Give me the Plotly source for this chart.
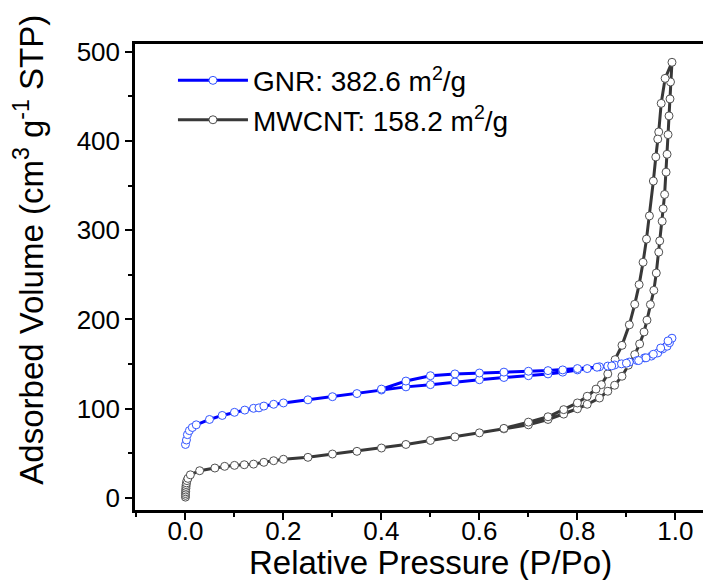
import plotly.graph_objects as go

# GNR isotherm (adsorption then desorption)
gnr_ads_x = [0.0, 0.002, 0.004, 0.008, 0.014, 0.022, 0.049, 0.075, 0.10, 0.121, 0.139, 0.15, 0.16, 0.18, 0.20,
             0.25, 0.30, 0.35, 0.40, 0.45, 0.50, 0.55, 0.60, 0.65, 0.70, 0.74, 0.77, 0.80, 0.82, 0.845, 0.862,
             0.876, 0.89, 0.906, 0.922, 0.937, 0.951, 0.964, 0.974, 0.983, 0.988, 0.993]
gnr_ads_y = [60, 65, 71, 75.5, 79, 82, 88, 92.5, 96, 98.5, 100.5, 101, 103, 105, 106.5,
             110, 113.5, 117, 121, 124.5, 127, 130, 132.5, 135, 137, 139, 141, 143.5, 145, 147, 147.8,
             149, 150.3, 152.3, 154, 157, 159, 162.5, 167, 170, 174, 179]
gnr_des_x = [0.985, 0.97, 0.955, 0.94, 0.925, 0.90, 0.87, 0.84, 0.80, 0.77, 0.74, 0.70, 0.65, 0.60, 0.55,
             0.50, 0.45, 0.40]
gnr_des_y = [176, 168, 161, 157, 154, 151, 148, 146.5, 145, 143.5, 142.7, 142, 141, 140, 139,
             137, 131, 122]

# MWCNT isotherm (adsorption then desorption)
mw_ads_x = [0.0, 0.0, 0.0, 0.0005, 0.0005, 0.001, 0.001, 0.0015, 0.002, 0.003, 0.005, 0.01, 0.029, 0.06,
            0.08, 0.10, 0.12, 0.139, 0.16, 0.18, 0.20, 0.25, 0.30, 0.35, 0.40, 0.45, 0.50, 0.55, 0.60, 0.65,
            0.70, 0.74, 0.772, 0.80, 0.82, 0.845, 0.862, 0.876, 0.891, 0.904, 0.917, 0.927, 0.936, 0.942,
            0.949, 0.956, 0.961, 0.966, 0.968, 0.973, 0.975, 0.978, 0.981, 0.983, 0.985, 0.987, 0.989,
            0.99, 0.993]
mw_ads_y = [1, 3, 5, 7, 9, 11, 13, 15, 17, 19.5, 22, 26, 30.6, 33.6,
            35.5, 36.6, 37.3, 38, 40, 41.8, 43.4, 45.6, 49.3, 52.3, 56, 60, 64.5, 68.5, 73, 77.5,
            82, 88, 94, 100, 105, 112, 119.6, 126.3, 136.4, 148.8, 160.7, 172.6, 186, 199.2,
            216.7, 232.6, 252, 275.4, 288, 310, 324, 340, 365, 385, 407, 428, 447,
            466, 488]
mw_des_x = [0.979, 0.971, 0.966, 0.964, 0.960, 0.955, 0.947, 0.941, 0.934, 0.926, 0.917, 0.906, 0.891,
            0.877, 0.862, 0.849, 0.838, 0.82, 0.80, 0.772, 0.74, 0.70, 0.65]
mw_des_y = [470, 442, 410, 402, 382, 355, 316, 290, 264, 239, 217, 194, 171,
            155, 139, 127, 122, 114, 106.5, 99, 91, 85, 78]

names = ["GNR: 382.6 m<sup>2</sup>/g", "MWCNT: 158.2 m<sup>2</sup>/g"]
x_ticks = [0.0, 0.2, 0.4, 0.6, 0.8, 1.0]
x_ticktext = ["0.0", "0.2", "0.4", "0.6", "0.8", "1.0"]
y_ticks = [0, 100, 200, 300, 400, 500]
x_title = "Relative Pressure (P/Po)"
y_title = "Adsorbed Volume (cm<sup>3</sup> g<sup>-1</sup> STP)"

FONT = "Arial, 'Liberation Sans', sans-serif"

fig = go.Figure()
fig.add_trace(go.Scatter(
    x=mw_ads_x + mw_des_x, y=mw_ads_y + mw_des_y, name=names[1], legendrank=2,
    mode="lines+markers",
    line=dict(color="#383838", width=3),
    marker=dict(symbol="circle", size=8, color="white", line=dict(color="#505050", width=1)),
))
fig.add_trace(go.Scatter(
    x=gnr_ads_x + gnr_des_x, y=gnr_ads_y + gnr_des_y, name=names[0], legendrank=1,
    mode="lines+markers",
    line=dict(color="#0000ff", width=3),
    marker=dict(symbol="circle", size=8, color="white", line=dict(color="#3355ff", width=1)),
))

fig.update_layout(
    width=711, height=580,
    margin=dict(l=127, r=0, t=36, b=78),
    paper_bgcolor="white", plot_bgcolor="white",
    font=dict(family=FONT, color="black", size=26),
    showlegend=True,
    legend=dict(x=0.065, y=0.975, xanchor="left", yanchor="top",
                bgcolor="rgba(0,0,0,0)", font=dict(size=28), itemwidth=70),
    xaxis=dict(range=[-0.103, 1.089], tickvals=x_ticks, ticktext=x_ticktext,
               showline=True, linecolor="black", linewidth=2.5, mirror=True,
               ticks="outside", ticklen=7, tickwidth=2, tickcolor="black",
               minor=dict(dtick=0.1, tick0=0, ticks="outside", ticklen=4, tickwidth=2, tickcolor="black"),
               showgrid=False, zeroline=False, automargin=False,
               ticklabelstandoff=-11,
               tickfont=dict(size=26)),
    yaxis=dict(range=[-13.4, 508.5], tickvals=y_ticks,
               showline=True, linecolor="black", linewidth=2.5, mirror=False,
               ticks="outside", ticklen=7, tickwidth=2, tickcolor="black",
               minor=dict(dtick=50, tick0=0, ticks="outside", ticklen=4, tickwidth=2, tickcolor="black"),
               showgrid=False, zeroline=False, automargin=False,
               tickfont=dict(size=26)),
    annotations=[
        dict(text=x_title, xref="x", yref="paper", x=0.5, y=-0.113, xanchor="center", yanchor="middle",
             showarrow=False, font=dict(size=33)),
        dict(text=y_title, xref="paper", yref="paper", x=-0.182, y=0.558, xanchor="center", yanchor="middle",
             textangle=-90, showarrow=False, font=dict(size=33)),
    ],
)

fig.write_html("out.html")
